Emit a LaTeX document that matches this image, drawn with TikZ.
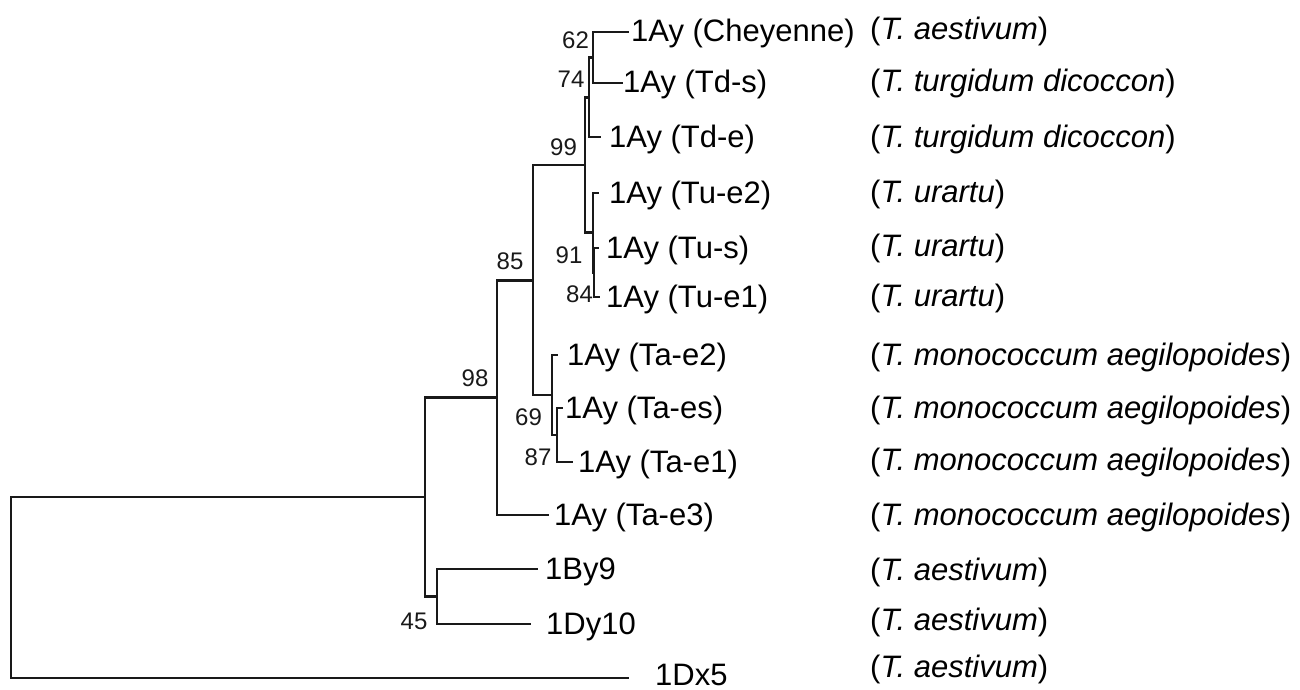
\documentclass[tikz,border=0pt]{standalone}
\usepackage{fontspec}
\setmainfont{Liberation Sans}
\begin{document}
\begin{tikzpicture}[x=1pt,y=-1pt,
  branch/.style={line width=2.6pt, draw=black!90, line cap=rect, line join=miter},
  leaf/.style={anchor=base west, inner sep=0pt, text=black, font=\fontsize{31}{32}\selectfont},
  species/.style={anchor=base west, inner sep=0pt, text=black, font=\fontsize{31}{32}\selectfont},
  boot/.style={anchor=center, inner sep=0pt, text=black!90, font=\fontsize{24}{25}\selectfont}]
\useasboundingbox (0,0) rectangle (1300,690);

% internal nodes of the tree
\coordinate (root) at (11,587.5);
\coordinate (nA)   at (425,497);
\coordinate (nB)   at (497,397.5);
\coordinate (n45)  at (437,596.5);
\coordinate (n85)  at (533,280.5);
\coordinate (n99)  at (585,165);
\coordinate (n74)  at (589,97.5);
\coordinate (n62)  at (593,57.5);
\coordinate (n91)  at (593,232.75);
\coordinate (n84)  at (594,272.5);
\coordinate (nTa)  at (552,395);
\coordinate (n87)  at (557,435);

% branch tips
\coordinate (tChey)  at (628,32);
\coordinate (tTds)   at (622,83);
\coordinate (tTde)   at (600,137);
\coordinate (tTue2)  at (598,193);
\coordinate (tTus)   at (598,248);
\coordinate (tTue1)  at (599,297);
\coordinate (tTae2)  at (557,355);
\coordinate (tTaes)  at (562,408);
\coordinate (tTae1)  at (572,462);
\coordinate (tTae3)  at (548,515);
\coordinate (t1By9)  at (537,569);
\coordinate (t1Dy10) at (530,624);
\coordinate (t1Dx5)  at (628,678);

% branches
\draw[branch] (nA)    -| (root) |- (t1Dx5);
\draw[branch] (nB)    -| (nA)   |- (n45);
\draw[branch] (n85)   -| (nB)   |- (tTae3);
\draw[branch] (n99)   -| (n85)  |- (nTa);
\draw[branch] (n74)   -| (n99)  |- (n91);
\draw[branch] (n62)   -| (n74)  |- (tTde);
\draw[branch] (tChey) -| (n62)  |- (tTds);
\draw[branch] (tTue2) -| (n91)  |- (n84);
\draw[branch] (tTus)  -| (n84)  |- (tTue1);
\draw[branch] (tTae2) -| (nTa)  |- (n87);
\draw[branch] (tTaes) -| (n87)  |- (tTae1);
\draw[branch] (t1By9) -| (n45)  |- (t1Dy10);

% bootstrap values
\node[boot] (b62) at (575.5,40)  {62};
\node[boot] (b74) at (571,79)    {74};
\node[boot] (b99) at (563.5,147) {99};
\node[boot] (b91) at (569,255)   {91};
\node[boot] (b84) at (579.5,294) {84};
\node[boot] (b85) at (510,261)   {85};
\node[boot] (b98) at (475,378)   {98};
\node[boot] (b69) at (528.5,417) {69};
\node[boot] (b87) at (538,457)   {87};
\node[boot] (b45) at (414,621)   {45};

% sequence names
\node[leaf] (lChey)  at (631,42)  {1Ay (Cheyenne)};
\node[leaf] (lTds)   at (623,93)  {1Ay (Td-s)};
\node[leaf] (lTde)   at (609,147) {1Ay (Td-e)};
\node[leaf] (lTue2)  at (609,203) {1Ay (Tu-e2)};
\node[leaf] (lTus)   at (606,258) {1Ay (Tu-s)};
\node[leaf] (lTue1)  at (606,307) {1Ay (Tu-e1)};
\node[leaf] (lTae2)  at (567,365) {1Ay (Ta-e2)};
\node[leaf] (lTaes)  at (565,418) {1Ay (Ta-es)};
\node[leaf] (lTae1)  at (578,472) {1Ay (Ta-e1)};
\node[leaf] (lTae3)  at (554,525) {1Ay (Ta-e3)};
\node[leaf] (l1By9)  at (545,579) {1By9};
\node[leaf] (l1Dy10) at (546,634) {1Dy10};
\node[leaf] (l1Dx5)  at (655,685) {1Dx5};

% species
\node[species] (sChey)  at (870,40)  {(\textit{T. aestivum})};
\node[species] (sTds)   at (870,92)  {(\textit{T. turgidum dicoccon})};
\node[species] (sTde)   at (870,147) {(\textit{T. turgidum dicoccon})};
\node[species] (sTue2)  at (870,202) {(\textit{T. urartu})};
\node[species] (sTus)   at (870,256) {(\textit{T. urartu})};
\node[species] (sTue1)  at (870,306) {(\textit{T. urartu})};
\node[species] (sTae2)  at (870,365) {(\textit{T. monococcum aegilopoides})};
\node[species] (sTaes)  at (870,418) {(\textit{T. monococcum aegilopoides})};
\node[species] (sTae1)  at (870,470) {(\textit{T. monococcum aegilopoides})};
\node[species] (sTae3)  at (870,525) {(\textit{T. monococcum aegilopoides})};
\node[species] (s1By9)  at (870,580) {(\textit{T. aestivum})};
\node[species] (s1Dy10) at (870,630) {(\textit{T. aestivum})};
\node[species] (s1Dx5)  at (870,677) {(\textit{T. aestivum})};
\end{tikzpicture}
\end{document}
